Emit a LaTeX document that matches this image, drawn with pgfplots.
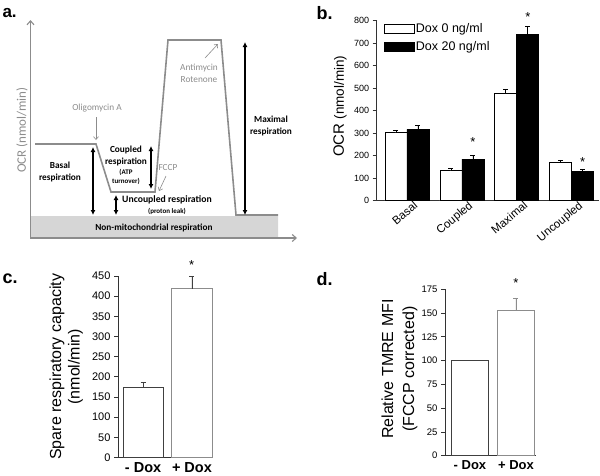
\documentclass[border=0pt]{standalone}
\usepackage{fontspec}
\setmainfont{Liberation Sans}
\newfontfamily\carlito{Carlito}
\usepackage{pgfplots}
\pgfplotsset{compat=1.18}
\usetikzlibrary{arrows.meta}
\definecolor{schem}{HTML}{8C8C8C}
\definecolor{shadeg}{HTML}{D6D6D6}
\newcommand{\fs}[1]{\fontsize{#1bp}{#1bp}\selectfont}
\newcommand{\fsl}[2]{\fontsize{#1bp}{#2bp}\selectfont}
\pgfplotsset{
  panel/.style={scale only axis, clip=false, axis lines=left, axis line style={-, black!80, line width=0.7bp},
    tick align=outside, major tick length=4bp, tick style={black!80, line width=0.7bp},
    /pgf/number format/assume math mode=true},
}
\begin{document}
\begin{tikzpicture}
\useasboundingbox (0,0) rectangle (600bp,-476bp);
% ---------------- panel a ----------------
\node[font={\bfseries\fs{17}}, anchor=west] at (-1bp,-13bp) {a.};
\begin{axis}[at={(30.5bp,-238bp)}, anchor=south west, scale only axis, width=266.5bp, height=218bp,
  xmin=30.5, xmax=297, ymin=0, ymax=218, clip=false, axis on top,
  axis lines=left, axis line style={schem, line width=1.1bp, -{Straight Barb[length=4bp,width=7bp]}},
  ticks=none,
  ylabel={\carlito\fs{13}OCR (nmol/min)}, ylabel style={at={(axis description cs:-0.032,0.495)}, anchor=center, text=schem}]
\addplot[fill=shadeg, draw=none] coordinates {(30.5,0) (278,0) (278,22) (30.5,22) (30.5,0)};
\addplot[schem, line width=1.6bp] coordinates {(35,94) (96,94) (111,46) (155,46) (168,198) (221,198) (236,23) (278,23)};
\begin{scope}[line width=1.3bp, {Latex[length=5bp,width=5bp]}-{Latex[length=5bp,width=5bp]}]
\draw (axis cs:93,91) -- (axis cs:93,23);
\draw (axis cs:151,92) -- (axis cs:151,49);
\draw (axis cs:116,43) -- (axis cs:116,23);
\draw (axis cs:245,196) -- (axis cs:245,23);
\end{scope}
\begin{scope}[schem, line width=0.6bp, -{Straight Barb[length=3bp,width=5bp]}]
\draw (axis cs:96,121) -- (axis cs:96,98);
\draw (axis cs:166,62) -- (axis cs:159,47);
\draw (axis cs:205,180) -- (axis cs:218,194);
\end{scope}
\node[text=schem, font={\carlito\fs{9.3}}] at (axis cs:97,130) {Oligomycin A};
\node[font={\carlito\bfseries\fsl{9.3}{12}}, align=center] at (axis cs:60,66) {Basal\\respiration};
\node[font={\carlito\bfseries\fsl{9.3}{11.5}}, align=center] at (axis cs:126,82) {Coupled\\respiration};
\node[font={\carlito\bfseries\fsl{7}{9}}, align=center] at (axis cs:126,61) {(ATP\\turnover)};
\node[text=schem, font={\carlito\fs{9.3}}] at (axis cs:168,70) {FCCP};
\node[font={\carlito\bfseries\fs{9.7}}] at (axis cs:167,38) {Uncoupled respiration};
\node[font={\carlito\bfseries\fs{7}}] at (axis cs:167,27) {(proton leak)};
\node[text=schem, font={\carlito\fsl{9.3}{12}}, align=center] at (axis cs:199,165) {Antimycin\\Rotenone};
\node[font={\carlito\bfseries\fsl{9.3}{11.5}}, align=center] at (axis cs:271,112) {Maximal\\respiration};
\node[font={\carlito\bfseries\fs{9.3}}] at (axis cs:154,10) {Non-mitochondrial respiration};
\end{axis}
% ---------------- panel b ----------------
\node[font={\bfseries\fs{18}}, anchor=west] at (313bp,-13bp) {b.};
\begin{axis}[panel, at={(376.7bp,-200.7bp)}, anchor=south west, width=222bp, height=180bp,
  xmin=-0.55, xmax=3.49, ymin=0, ymax=800, ybar, bar width=0.4,
  ytick={0,100,...,800}, xtick={0,1,2,3}, xticklabels={Basal,Coupled,Maximal,Uncoupled},
  x tick style={draw=none},
  y tick label style={font={\fs{9}}},
  x tick label style={font={\fs{11.5}}, rotate=40, anchor=north east, inner sep=0.5bp, xshift=8bp},
  ylabel={\fs{15}OCR \fs{13.5}(nmol/min)}, ylabel style={at={(axis description cs:-0.165,0.525)}, anchor=center},
  legend style={draw=none, fill=none, at={(axis description cs:0.032,0.992)}, anchor=north west,
    font={\fs{12.5}}, inner sep=0pt, row sep=5bp, nodes={inner sep=1.2bp}, cells={anchor=west}},
  legend image code/.code={\draw[#1, line width=0.7bp] (0bp,-4.8bp) rectangle (30bp,4.8bp);},
  error bars/y dir=plus, error bars/y explicit,
  error bars/error mark options={rotate=90, mark size=2.5bp, line width=0.7bp},
  error bars/error bar style={line width=0.7bp}]
\addplot[fill=white, draw=black, line width=0.7bp, bar shift=0pt] coordinates {
 (-0.2,302) +- (0,9) (0.8,133) +- (0,9) (1.8,477) +- (0,18) (2.8,169) +- (0,9)};
\addplot[fill=black, draw=black, line width=0.7bp, bar shift=0pt] coordinates {
 (0.2,317) +- (0,18) (1.2,185) +- (0,17) (2.2,738) +- (0,38) (3.2,131) +- (0,9)};
\legend{Dox 0 ng/ml, Dox 20 ng/ml}
\node[font={\fs{13}}] at (axis cs:1.2,262) {*};
\node[font={\fs{13}}] at (axis cs:2.2,815) {*};
\node[font={\fs{13}}] at (axis cs:3.2,172) {*};
\end{axis}
% ---------------- panel c ----------------
\node[font={\bfseries\fs{18}}, anchor=west] at (-1bp,-279bp) {c.};
\begin{axis}[panel, at={(118bp,-457.5bp)}, anchor=south west, width=94bp, height=181.5bp,
  xmin=-0.513, xmax=1.41, ymin=0, ymax=450, ybar, bar width=0.82,
  ytick={0,50,...,450}, xtick={0,1}, xticklabels={- Dox,+ Dox}, x tick style={draw=none},
  y tick label style={font={\fs{11}}},
  x tick label style={font={\bfseries\fs{14.5}}, inner sep=1bp},
  ylabel={Spare respiratory capacity\\(nmol/min)},
  ylabel style={font={\fsl{16}{18.5}}, align=center, at={(axis description cs:-0.55,0.5)}, anchor=center},
  error bars/y dir=plus, error bars/y explicit,
  error bars/error mark options={rotate=90, mark size=2.5bp, line width=0.7bp},
  error bars/error bar style={line width=0.7bp}]
\addplot[fill=white, draw=black!75, line width=0.8bp, bar shift=0pt, error bars/error bar style={black!75}] coordinates {(0,174) +- (0,12)};
\addplot[fill=white, draw=black!45, line width=0.9bp, bar shift=0pt, error bars/error bar style={black!75}] coordinates {(1,419) +- (0,31)};
\node[font={\fs{13}}] at (axis cs:0.995,478) {*};
\end{axis}
% ---------------- panel d ----------------
\node[font={\bfseries\fs{18}}, anchor=west] at (313bp,-279bp) {d.};
\begin{axis}[panel, at={(445bp,-455.7bp)}, anchor=south west, width=91bp, height=166.4bp,
  xmin=-0.543, xmax=1.435, ymin=0, ymax=175, ybar, bar width=0.796,
  ytick={0,25,...,175}, xtick={0,1}, xticklabels={- Dox,+ Dox}, x tick style={draw=none},
  y tick label style={font={\fs{9.5}}},
  x tick label style={font={\bfseries\fs{13}}, inner sep=1bp},
  ylabel={Relative TMRE MFI\\(FCCP corrected)},
  ylabel style={font={\fsl{16}{21}}, align=center, at={(axis description cs:-0.5,0.52)}, anchor=center},
  error bars/y dir=plus, error bars/y explicit,
  error bars/error mark options={rotate=90, mark size=2.5bp, line width=0.7bp},
  error bars/error bar style={line width=0.7bp}]
\addplot[fill=white, draw=black!75, line width=0.8bp, bar shift=0pt] coordinates {(0,100)};
\addplot[fill=white, draw=black!45, line width=0.9bp, bar shift=0pt, error bars/error bar style={black!45}] coordinates {(1,153) +- (0,13)};
\node[font={\fs{13}}] at (axis cs:1,182) {*};
\end{axis}
\end{tikzpicture}
\end{document}
